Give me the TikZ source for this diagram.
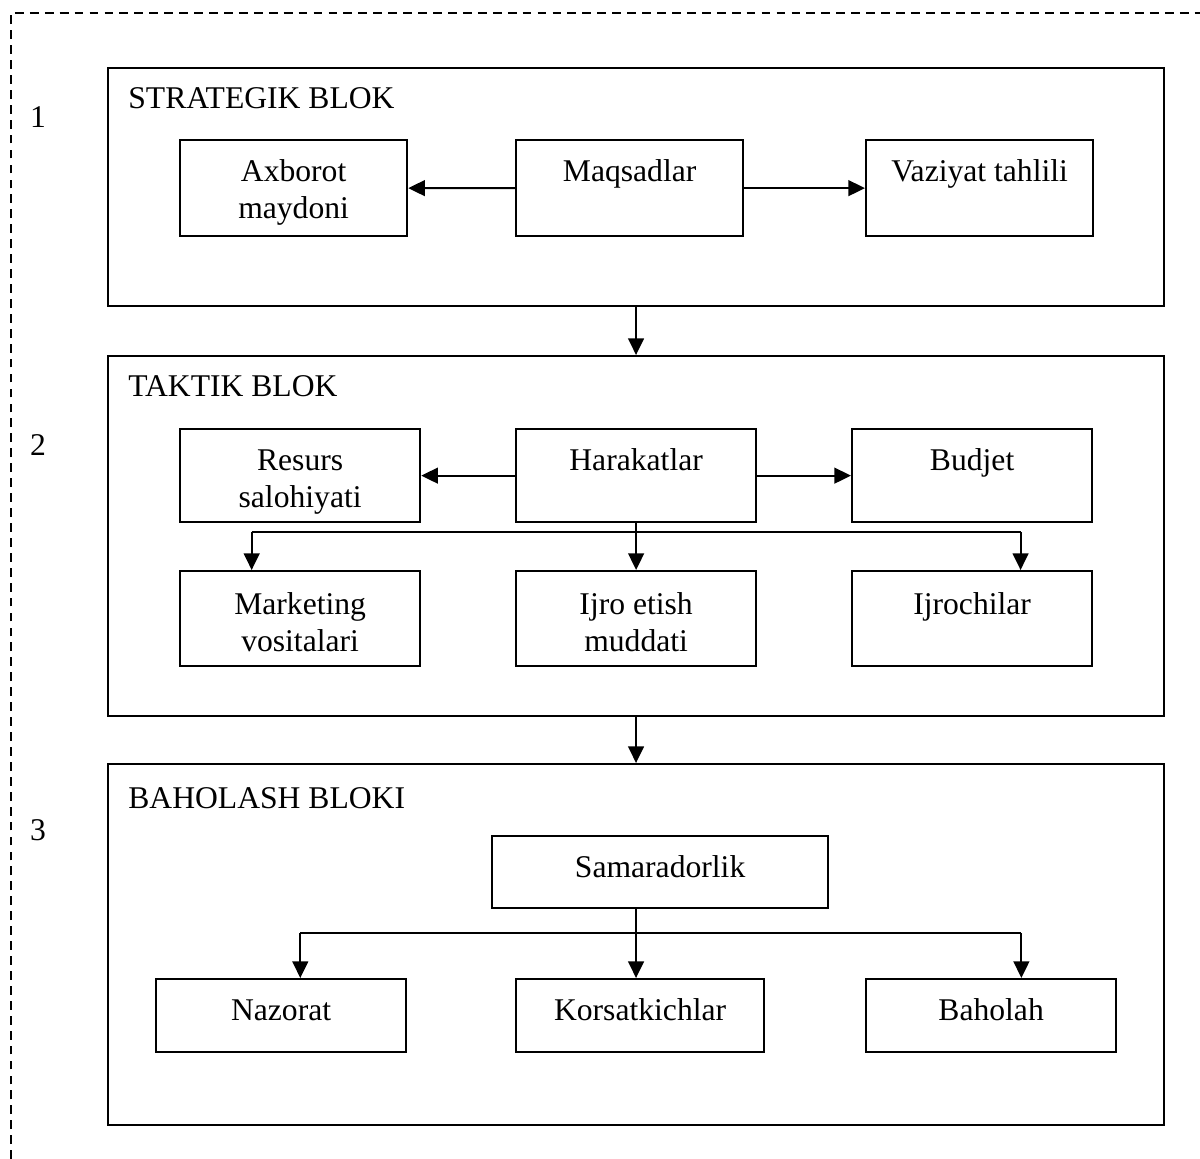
\documentclass[tikz,border=0pt]{standalone}
\usepackage{fontspec}
\setmainfont{Liberation Serif}
\usetikzlibrary{arrows.meta,calc}
\tikzset{
	blok/.style={draw, line width=1.3pt, anchor=north west, inner sep=0pt, minimum width=21.12cm},
	katak/.style 2 args={draw, line width=1.3pt, anchor=north west, inner sep=0pt, align=center,
		minimum width=#1, text height=0.82cm, text depth=#2},
	strelka/.style={line width=1.1pt, -{Triangle[length=9.5pt,width=9pt]}},
	chiziq/.style={line width=1.1pt}
}
\begin{document}
\begin{tikzpicture}[x=0.02cm, y=-0.02cm, font=\fontsize{18}{21}\selectfont]
	\useasboundingbox (0,0) rectangle (1200,1159);
	\draw[line width=1pt, dash pattern=on 5pt off 3.5pt] (11,1159) -- (11,13) -- (1200,13);
	% bloklar
	\node[blok, minimum height=4.76cm] (b1) at (107,67) {};
	\node[blok, minimum height=7.2cm] (b2) at (107,355) {};
	\node[blok, minimum height=7.22cm] (b3) at (107,763) {};
	\node[anchor=base] (n1) at (38,128) {1};
	\node[anchor=base] (n2) at (38,455) {2};
	\node[anchor=base] (n3) at (38,840) {3};
	\node[anchor=base west, inner sep=0pt] (s1) at (128,109) {STRATEGIK BLOK};
	\node[anchor=base west, inner sep=0pt] (s2) at (128,396) {TAKTIK BLOK};
	\node[anchor=base west, inner sep=0pt] (s3) at (128,808) {BAHOLASH BLOKI};
	% strategik
	\node[katak={4.54cm}{0.36cm}, text height=1.56cm] (axb) at (179,139) {Axborot\\maydoni};
	\node[katak={4.54cm}{1.1cm}] (maq) at (515,139) {Maqsadlar};
	\node[katak={4.54cm}{1.1cm}] (vaz) at (865,139) {Vaziyat tahlili};
	\draw[strelka] (maq.west) -- (axb.east);
	\draw[strelka] (maq.east) -- (vaz.west);
	\draw[strelka] (b1.south) -- (b2.north);
	% taktik
	\node[katak={4.8cm}{0.3cm}, text height=1.56cm] (res) at (179,428) {Resurs\\salohiyati};
	\node[katak={4.8cm}{1.04cm}] (har) at (515,428) {Harakatlar};
	\node[katak={4.8cm}{1.04cm}] (bud) at (851,428) {Budjet};
	\node[katak={4.8cm}{0.3cm}, text height=1.6cm] (mkt) at (179,570) {Marketing\\vositalari};
	\node[katak={4.8cm}{0.3cm}, text height=1.6cm] (ijr) at (515,570) {Ijro etish\\muddati};
	\node[katak={4.8cm}{1.04cm}, text height=0.86cm] (ijc) at (851,570) {Ijrochilar};
	\draw[strelka] (har.west) -- (res.east);
	\draw[strelka] (har.east) -- (bud.west);
	\coordinate (t2) at ($(har.south)+(0,9)$);
	\coordinate (m1) at ($(mkt.north west)!.3!(mkt.north east)$);
	\coordinate (m3) at ($(ijc.north west)!.7!(ijc.north east)$);
	\draw[chiziq] (t2 -| m1) -- (t2 -| m3);
	\draw[strelka] (har.south) -- (ijr.north);
	\draw[strelka] (t2 -| m1) -- (m1);
	\draw[strelka] (t2 -| m3) -- (m3);
	\draw[strelka] (b2.south) -- (b3.north);
	% baholash
	\node[katak={6.72cm}{0.62cm}] (sam) at (491,835) {Samaradorlik};
	\node[katak={5cm}{0.64cm}] (naz) at (155,978) {Nazorat};
	\node[katak={4.96cm}{0.64cm}] (kor) at (515,978) {Korsatkichlar};
	\node[katak={5cm}{0.64cm}] (bah) at (865,978) {Baholah};
	\coordinate (t3) at ($(sam.south -| b3.north)+(0,24)$);
	\coordinate (k1) at ($(naz.north west)!.576!(naz.north east)$);
	\coordinate (k3) at ($(bah.north west)!.62!(bah.north east)$);
	\draw[chiziq] (t3 -| k1) -- (t3 -| k3);
	\draw[strelka] (sam.south -| b3.north) -- (kor.north -| b3.north);
	\draw[strelka] (t3 -| k1) -- (k1);
	\draw[strelka] (t3 -| k3) -- (k3);
\end{tikzpicture}
\end{document}
